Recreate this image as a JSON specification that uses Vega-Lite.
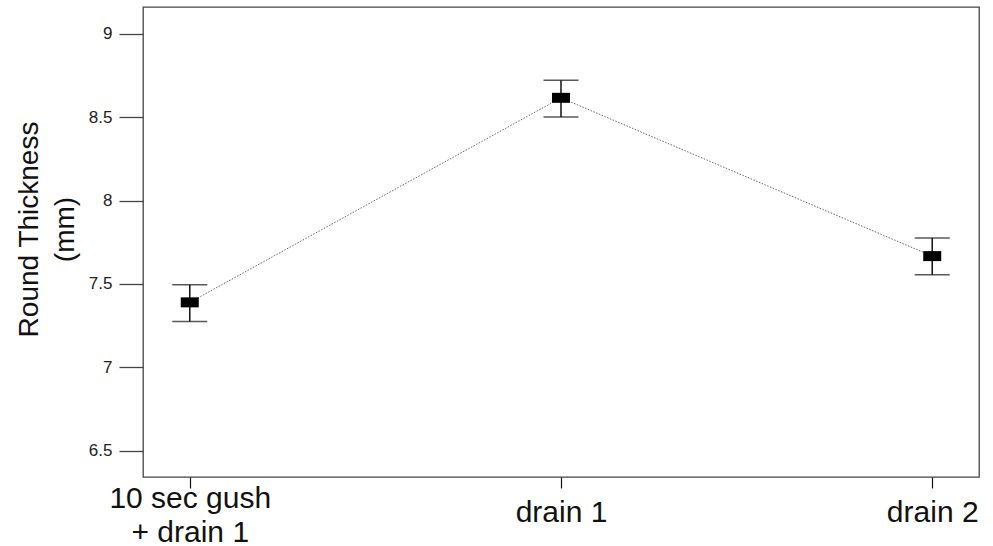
{
  "$schema": "https://vega.github.io/schema/vega-lite/v6.json",
  "width": 836,
  "height": 470,
  "autosize": "none",
  "padding": {"left": 143, "top": 7, "right": 14, "bottom": 69},
  "background": "white",
  "config": {
    "view": {"stroke": "#444", "strokeWidth": 1.3},
    "font": "Liberation Sans"
  },
  "data": {
    "values": [
      {"cat": "10 sec gush + drain 1", "mean": 7.39, "lo": 7.275, "hi": 7.495},
      {"cat": "drain 1", "mean": 8.615, "lo": 8.5, "hi": 8.72},
      {"cat": "drain 2", "mean": 7.667, "lo": 7.555, "hi": 7.775}
    ]
  },
  "encoding": {
    "x": {
      "field": "cat",
      "type": "nominal",
      "sort": null,
      "scale": {"type": "point", "padding": 0.126},
      "axis": {
        "title": null,
        "domain": false,
        "labelAngle": 0,
        "labelFont": "Liberation Sans",
        "labelFontSize": 30,
        "labelColor": "#111",
        "labelPadding": {"condition": {"test": "datum.value == '10 sec gush + drain 1'", "value": 19}, "value": 33},
        "labelBaseline": "alphabetic",
        "labelLineHeight": 34,
        "labelLimit": 400,
        "labelOverlap": false,
        "labelExpr": "datum.value == '10 sec gush + drain 1' ? ['10 sec gush', '+ drain 1'] : datum.value",
        "tickSize": 11,
        "tickColor": "#111",
        "tickWidth": 1.2
      }
    }
  },
  "layer": [
    {
      "mark": {"type": "line", "color": "#666", "strokeWidth": 1, "strokeDash": [1.5, 1.5]},
      "encoding": {
        "y": {
          "field": "mean",
          "type": "quantitative",
          "scale": {"domain": [6.344, 9.159], "nice": false, "zero": false},
          "axis": {
            "values": [6.5, 7, 7.5, 8, 8.5, 9],
            "format": "~g",
            "grid": false,
            "domain": false,
            "labelFont": "Liberation Sans",
            "labelFontSize": 17,
            "labelColor": "#222",
            "labelPadding": 7,
            "tickSize": 24,
            "tickColor": "#444",
            "tickWidth": 1.3,
            "title": ["Round Thickness", "(mm)"],
            "titleFont": "Liberation Sans",
            "titleFontSize": 28,
            "titleFontWeight": "normal",
            "titleColor": "#111",
            "titleLineHeight": 36,
            "titleAngle": 270,
            "titleBaseline": "alphabetic",
            "titleAlign": "center",
            "titleX": -106,
            "titleY": 222
          }
        }
      }
    },
    {
      "mark": {"type": "rule", "color": "#111", "strokeWidth": 1.5},
      "encoding": {
        "y": {"field": "lo", "type": "quantitative", "scale": {"domain": [6.344, 9.159], "nice": false, "zero": false}},
        "y2": {"field": "hi"}
      }
    },
    {
      "mark": {"type": "tick", "orient": "horizontal", "color": "#111", "size": 35, "thickness": 1.5},
      "encoding": {
        "y": {"field": "lo", "type": "quantitative", "scale": {"domain": [6.344, 9.159], "nice": false, "zero": false}}
      }
    },
    {
      "mark": {"type": "tick", "orient": "horizontal", "color": "#111", "size": 35, "thickness": 1.5},
      "encoding": {
        "y": {"field": "hi", "type": "quantitative", "scale": {"domain": [6.344, 9.159], "nice": false, "zero": false}}
      }
    },
    {
      "mark": {"type": "tick", "orient": "horizontal", "color": "#000", "size": 18, "thickness": 10, "opacity": 1},
      "encoding": {
        "y": {"field": "mean", "type": "quantitative", "scale": {"domain": [6.344, 9.159], "nice": false, "zero": false}}
      }
    }
  ]
}
